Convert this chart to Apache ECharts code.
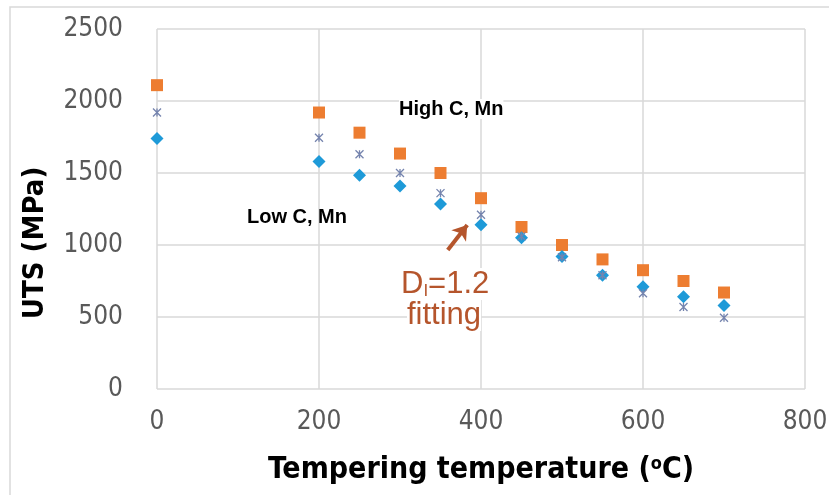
<!DOCTYPE html>
<html lang="en">
<head>
  <meta charset="UTF-8">
  <title>UTS vs tempering temperature</title>
  <style>
    html, body { margin: 0; padding: 0; background: #fff; }
    #chart { width: 829px; height: 495px; }
  </style>
</head>
<body>
  <div id="chart"></div>
  <script src="https://cdn.jsdelivr.net/npm/echarts@6/dist/echarts.min.js"></script>
  <script>
    // tempering temperatures (°C)
    const temps = [0, 200, 250, 300, 350, 400, 450, 500, 550, 600, 650, 700]
    // UTS (MPa)
    const highC = [2110, 1920, 1780, 1635, 1500, 1325, 1125, 1000, 900, 825, 750, 670]
    const fitting = [1920, 1745, 1630, 1500, 1360, 1210, 1060, 915, 790, 665, 570, 495]
    const lowC = [1740, 1580, 1485, 1410, 1285, 1140, 1050, 920, 790, 710, 640, 580]

    const xTicks = [0, 200, 400, 600, 800]
    const yTicks = [0, 500, 1000, 1500, 2000, 2500]

    const brown = '#B5552C'
    const narrow = '"Liberation Sans Narrow", "DejaVu Sans Condensed", "Liberation Sans", sans-serif'
    const tickFont = { color: '#595959', fontSize: 26, fontFamily: narrow }

    const pairs = arr => temps.map((t, i) => [t, arr[i]])

    const option = {
      animation: false,
      grid: { left: 157, right: 24, top: 29, bottom: 106, outerBoundsMode: 'none' },
      xAxis: {
        type: 'value',
        min: xTicks[0],
        max: xTicks[xTicks.length - 1],
        interval: 200,
        axisLine: { show: false },
        axisTick: { show: false },
        axisLabel: Object.assign({ margin: 20, formatter: v => String(v) }, tickFont),
        splitLine: { lineStyle: { color: '#d9d9d9', width: 1.5 } },
        name: '{t|Tempering temperature (}{s|o}{t|C)}',
        nameLocation: 'middle',
        nameGap: 66,
        nameTextStyle: {
          rich: {
            t: { fontSize: 30, fontWeight: 'bold', color: '#000', fontFamily: narrow },
            s: { fontSize: 18, fontWeight: 'bold', color: '#000', fontFamily: narrow, verticalAlign: 'top', padding: [0, 0, 13, 0] }
          }
        }
      },
      yAxis: {
        type: 'value',
        min: yTicks[0],
        max: yTicks[yTicks.length - 1],
        interval: 500,
        axisLine: { show: false },
        axisTick: { show: false },
        axisLabel: Object.assign({ margin: 34, formatter: v => String(v) }, tickFont),
        splitLine: { lineStyle: { color: '#d9d9d9', width: 1.5 } }
      },
      graphic: [
        { type: 'rect', shape: { x: 10, y: 7, width: 900, height: 600 }, style: { fill: 'none', stroke: '#d9d9d9', lineWidth: 1.5 }, z: -1 },
        {
          type: 'text', x: 35, y: 243, rotation: Math.PI / 2,
          style: { text: 'UTS (MPa)', font: 'bold 29px ' + narrow, fill: '#000', align: 'center', verticalAlign: 'middle' }
        },
        { type: 'text', left: 399, top: 99, z: 100, style: { text: 'High C, Mn', font: 'bold 20px "Liberation Sans"', fill: '#000', backgroundColor: '#fff' } },
        { type: 'text', left: 247, top: 207, z: 100, style: { text: 'Low C, Mn', font: 'bold 20px "Liberation Sans"', fill: '#000' } },
        {
          type: 'text', left: 401, top: 268, z: 100,
          style: {
            text: '{a|D}{b|I}{a|=1.2}',
            fill: brown,
            backgroundColor: '#fff',
            rich: {
              a: { fontSize: 31, fill: brown, fontFamily: 'Liberation Sans' },
              b: { fontSize: 17, fill: brown, fontFamily: 'Liberation Sans', padding: [15, 0, 0, 0] }
            }
          }
        },
        { type: 'text', left: 407, top: 300, z: 100, style: { text: 'fitting', font: '31px "Liberation Sans"', fill: brown, backgroundColor: '#fff' } }
      ],
      series: [
        {
          name: 'High C, Mn',
          type: 'scatter',
          symbol: 'rect',
          symbolSize: 12,
          itemStyle: { color: '#ED7D31', opacity: 1 },
          data: pairs(highC),
          z: 3
        },
        {
          name: 'Low C, Mn',
          type: 'scatter',
          symbol: 'diamond',
          symbolSize: 13,
          itemStyle: { color: '#1E9AD8', opacity: 1 },
          data: pairs(lowC),
          z: 3
        },
        {
          name: 'DI=1.2 fitting',
          type: 'scatter',
          symbol: 'path://M0,0L10,10M10,0L0,10M5,0L5,10',
          symbolSize: 8,
          itemStyle: { color: 'transparent', borderColor: '#7584AE', borderWidth: 1.3, opacity: 1 },
          data: pairs(fitting),
          z: 4,
          markLine: {
            silent: true,
            symbol: ['none', 'arrow'],
            symbolSize: 14,
            label: { show: false },
            lineStyle: { color: brown, width: 4, type: 'solid' },
            data: [[{ coord: [359, 965] }, { coord: [383, 1139] }]]
          }
        }
      ]
    }

    const myChart = echarts.init(document.getElementById('chart'))
    myChart.setOption(option)
  </script>
</body>
</html>
